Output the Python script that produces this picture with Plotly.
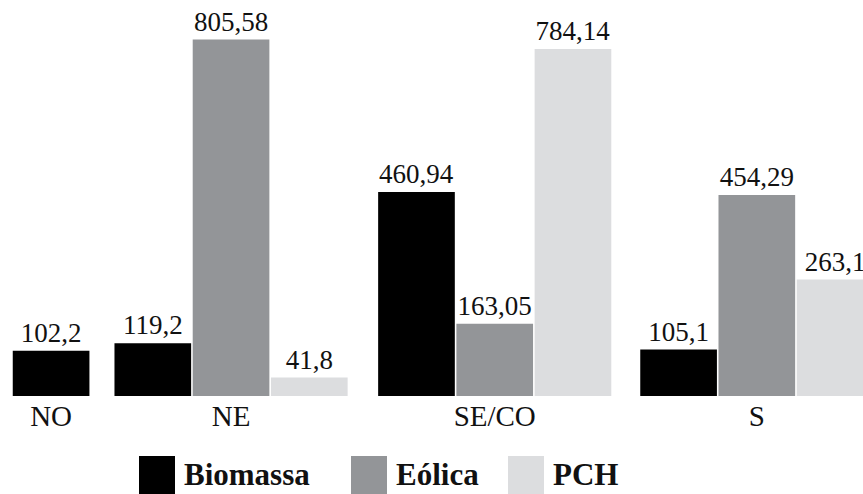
import plotly.graph_objects as go

# Potência por região e fonte
categories = ["NO", "NE", "SE/CO", "S"]
series_names = ["Biomassa", "Eólica", "PCH"]
biomassa = [102.2, 119.2, 460.94, 105.1]
eolica = [None, 805.58, 163.05, 454.29]
pch = [None, 41.8, 784.14, 263.1]
series_values = [biomassa, eolica, pch]
colors = ["#000000", "#939598", "#dcdddf"]

W, H = 863, 494
FONT = "Liberation Serif"
GROUP_GAPS = [0.30, 0.37, 0.35]  # spacing after each region (in bar widths)
BAR_WIDTH = 0.98

# Slot layout: only the series present in a region take a slot
slot_x = [[None] * len(categories) for _ in series_values]
group_centers = []
cursor = 0.0
for ci in range(len(categories)):
    first = cursor
    for si, vals in enumerate(series_values):
        if vals[ci] is not None:
            slot_x[si][ci] = cursor
            cursor += 1.0
    group_centers.append((first + cursor - 1.0) / 2)
    if ci < len(GROUP_GAPS):
        cursor += GROUP_GAPS[ci]


def fmt(v):
    return ("%g" % v).replace(".", ",")


fig = go.Figure()
for si, (name, vals) in enumerate(zip(series_names, series_values)):
    xs = [x for x, v in zip(slot_x[si], vals) if v is not None]
    ys = [v for v in vals if v is not None]
    fig.add_trace(go.Bar(
        x=xs, y=ys, name=name, width=BAR_WIDTH,
        marker=dict(color=colors[si], line=dict(width=0)),
        text=[fmt(v) for v in ys], textposition="outside",
        textfont=dict(family=FONT, size=27, color="#111111"),
        constraintext="none", cliponaxis=False, showlegend=False,
    ))

# Legend drawn as large swatches with bold labels below the axis
legend_x = [139, 351, 508]
shapes, annotations = [], []
for name, color, lx in zip(series_names, colors, legend_x):
    shapes.append(dict(type="rect", xref="paper", yref="paper",
                       x0=lx / W, x1=(lx + 36) / W,
                       y0=(396 - 456) / 396, y1=(396 - 500) / 396,
                       fillcolor=color, line=dict(width=0)))
    annotations.append(dict(xref="paper", yref="paper",
                            x=(lx + 43) / W, y=(396 - 475) / 396,
                            xanchor="left", yanchor="middle", showarrow=False,
                            text="<b>%s</b>" % name,
                            font=dict(family=FONT, size=31, color="#111111")))

fig.update_layout(
    width=W, height=H,
    margin=dict(l=0, r=0, t=0, b=98),
    paper_bgcolor="white", plot_bgcolor="white",
    barmode="overlay",
    xaxis=dict(range=[-0.653, 10.377], tickvals=group_centers,
               ticktext=categories, showgrid=False, zeroline=False,
               showline=False, ticks="",
               tickfont=dict(family=FONT, size=29, color="#111111")),
    yaxis=dict(range=[0, 895], visible=False),
    shapes=shapes, annotations=annotations,
)

fig.write_html("out.html")
